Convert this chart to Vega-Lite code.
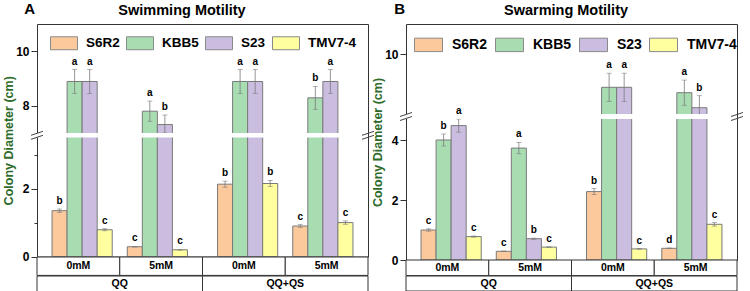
{
  "$schema": "https://vega.github.io/schema/vega-lite/v6.json",
  "padding": {"left": 2, "top": 1, "right": 0, "bottom": 0},
  "config": {"font": "Liberation Sans", "concat": {"spacing": 0}},
  "datasets": {
    "swim": [
      {"group": "QQ", "cond": "0mM", "strain": "S6R2", "key": "0mM S6R2", "mean": 1.35, "lo": 1.30, "hi": 1.40, "letter": "b"},
      {"group": "QQ", "cond": "0mM", "strain": "KBB5", "key": "0mM KBB5", "mean": 8.89, "lo": 8.45, "hi": 9.33, "letter": "a"},
      {"group": "QQ", "cond": "0mM", "strain": "S23", "key": "0mM S23", "mean": 8.89, "lo": 8.45, "hi": 9.33, "letter": "a"},
      {"group": "QQ", "cond": "0mM", "strain": "TMV7-4", "key": "0mM TMV7-4", "mean": 0.79, "lo": 0.76, "hi": 0.82, "letter": "c"},
      {"group": "QQ", "cond": "5mM", "strain": "S6R2", "key": "5mM S6R2", "mean": 0.29, "lo": 0.28, "hi": 0.30, "letter": "c"},
      {"group": "QQ", "cond": "5mM", "strain": "KBB5", "key": "5mM KBB5", "mean": 7.80, "lo": 7.43, "hi": 8.17, "letter": "a"},
      {"group": "QQ", "cond": "5mM", "strain": "S23", "key": "5mM S23", "mean": 7.31, "lo": 6.96, "hi": 7.66, "letter": "b"},
      {"group": "QQ", "cond": "5mM", "strain": "TMV7-4", "key": "5mM TMV7-4", "mean": 0.20, "lo": 0.19, "hi": 0.21, "letter": "c"},
      {"group": "QQ+QS", "cond": "0mM", "strain": "S6R2", "key": "0mM S6R2", "mean": 2.13, "lo": 2.04, "hi": 2.22, "letter": "b"},
      {"group": "QQ+QS", "cond": "0mM", "strain": "KBB5", "key": "0mM KBB5", "mean": 8.89, "lo": 8.45, "hi": 9.33, "letter": "a"},
      {"group": "QQ+QS", "cond": "0mM", "strain": "S23", "key": "0mM S23", "mean": 8.89, "lo": 8.45, "hi": 9.33, "letter": "a"},
      {"group": "QQ+QS", "cond": "0mM", "strain": "TMV7-4", "key": "0mM TMV7-4", "mean": 2.15, "lo": 2.06, "hi": 2.24, "letter": "b"},
      {"group": "QQ+QS", "cond": "5mM", "strain": "S6R2", "key": "5mM S6R2", "mean": 0.90, "lo": 0.86, "hi": 0.94, "letter": "c"},
      {"group": "QQ+QS", "cond": "5mM", "strain": "KBB5", "key": "5mM KBB5", "mean": 8.29, "lo": 7.87, "hi": 8.71, "letter": "b"},
      {"group": "QQ+QS", "cond": "5mM", "strain": "S23", "key": "5mM S23", "mean": 8.89, "lo": 8.45, "hi": 9.33, "letter": "a"},
      {"group": "QQ+QS", "cond": "5mM", "strain": "TMV7-4", "key": "5mM TMV7-4", "mean": 1.00, "lo": 0.95, "hi": 1.05, "letter": "c"}
    ],
    "swarm": [
      {"group": "QQ", "cond": "0mM", "strain": "S6R2", "key": "0mM S6R2", "mean": 1.00, "lo": 0.96, "hi": 1.04, "letter": "c"},
      {"group": "QQ", "cond": "0mM", "strain": "KBB5", "key": "0mM KBB5", "mean": 4.00, "lo": 3.80, "hi": 4.20, "letter": "b"},
      {"group": "QQ", "cond": "0mM", "strain": "S23", "key": "0mM S23", "mean": 4.48, "lo": 4.26, "hi": 4.70, "letter": "a"},
      {"group": "QQ", "cond": "0mM", "strain": "TMV7-4", "key": "0mM TMV7-4", "mean": 0.78, "lo": 0.76, "hi": 0.80, "letter": "c"},
      {"group": "QQ", "cond": "5mM", "strain": "S6R2", "key": "5mM S6R2", "mean": 0.29, "lo": 0.28, "hi": 0.30, "letter": "c"},
      {"group": "QQ", "cond": "5mM", "strain": "KBB5", "key": "5mM KBB5", "mean": 3.73, "lo": 3.54, "hi": 3.92, "letter": "a"},
      {"group": "QQ", "cond": "5mM", "strain": "S23", "key": "5mM S23", "mean": 0.71, "lo": 0.69, "hi": 0.73, "letter": "b"},
      {"group": "QQ", "cond": "5mM", "strain": "TMV7-4", "key": "5mM TMV7-4", "mean": 0.43, "lo": 0.42, "hi": 0.44, "letter": "c"},
      {"group": "QQ+QS", "cond": "0mM", "strain": "S6R2", "key": "0mM S6R2", "mean": 2.28, "lo": 2.18, "hi": 2.38, "letter": "b"},
      {"group": "QQ+QS", "cond": "0mM", "strain": "KBB5", "key": "0mM KBB5", "mean": 8.89, "lo": 8.42, "hi": 9.36, "letter": "a"},
      {"group": "QQ+QS", "cond": "0mM", "strain": "S23", "key": "0mM S23", "mean": 8.89, "lo": 8.42, "hi": 9.36, "letter": "a"},
      {"group": "QQ+QS", "cond": "0mM", "strain": "TMV7-4", "key": "0mM TMV7-4", "mean": 0.37, "lo": 0.36, "hi": 0.38, "letter": "c"},
      {"group": "QQ+QS", "cond": "5mM", "strain": "S6R2", "key": "5mM S6R2", "mean": 0.39, "lo": 0.38, "hi": 0.40, "letter": "d"},
      {"group": "QQ+QS", "cond": "5mM", "strain": "KBB5", "key": "5mM KBB5", "mean": 8.71, "lo": 8.29, "hi": 9.13, "letter": "a"},
      {"group": "QQ+QS", "cond": "5mM", "strain": "S23", "key": "5mM S23", "mean": 8.21, "lo": 7.81, "hi": 8.61, "letter": "b"},
      {"group": "QQ+QS", "cond": "5mM", "strain": "TMV7-4", "key": "5mM TMV7-4", "mean": 1.19, "lo": 1.13, "hi": 1.25, "letter": "c"}
    ]
  },
  "spacing": -6,
  "resolve": {"legend": {"color": "independent"}, "scale": {"xOffset": "independent"}},
  "hconcat": [
    {
      "title": {"text": "A", "anchor": "start", "frame": "bounds", "align": "left", "fontSize": 15, "fontWeight": "bold", "font": "Liberation Sans", "color": "#000000", "offset": -14.5, "dx": 22},
      "spacing": 0,
      "bounds": "flush",
      "resolve": {"legend": {"color": "independent"}, "scale": {"xOffset": "independent"}},
      "vconcat": [
        {
          "width": 331,
          "height": 232.6,
          "view": {"stroke": "#333333", "strokeWidth": 1},
          "title": {"text": "Swimming Motility", "fontSize": 14.5, "font": "Liberation Sans", "fontWeight": "bold", "color": "#000000", "anchor": "middle", "dx": -20.5, "offset": 6},
          "layer": [
            {
              "data": {"name": "swim"},
              "encoding": {
                "x": {"field": "group", "type": "nominal", "scale": {"domain": ["QQ", "QQ+QS"], "paddingInner": 0, "paddingOuter": 0}, "axis": null},
                "xOffset": {"field": "key", "type": "nominal", "scale": {"domain": ["0mM S6R2", "0mM KBB5", "0mM S23", "0mM TMV7-4", "gap", "5mM S6R2", "5mM KBB5", "5mM S23", "5mM TMV7-4"], "paddingInner": 0, "paddingOuter": 1.75}}
              },
              "layer": [
                {
                  "mark": {"type": "bar", "stroke": "#7a7a7a", "strokeWidth": 1},
                  "encoding": {
                    "y": {"field": "mean", "type": "quantitative", "title": "Colony Diameter (cm)",
                      "scale": {"domain": [0, 3.5, 7, 11], "range": [232.6, 113.6, 109, 0], "zero": false, "nice": false},
                      "axis": {"values": [0, 1, 2, 3, 8, 10], "labelExpr": "datum.value % 2 === 0 ? datum.label : ''", "domain": false, "grid": false, "tickColor": "#333333", "tickWidth": 1, "tickSize": {"condition": {"test": "datum.value % 2 === 1", "value": 3}, "value": 6}, "labelFont": "Liberation Sans", "labelFontWeight": "bold", "labelFontSize": 12, "labelColor": "#000000", "labelPadding": 2, "titleFont": "Liberation Sans", "titleFontWeight": "bold", "titleFontSize": 12.5, "titleColor": "#2f6b2a", "titlePadding": 0}},
                    "color": {"field": "strain", "type": "nominal", "scale": {"domain": ["S6R2", "KBB5", "S23", "TMV7-4"], "range": ["#fbc99c", "#a8ddb2", "#cbbde0", "#ffff9f"]},
                      "legend": {"orient": "none", "legendX": 13, "legendY": 5, "direction": "horizontal", "title": null, "symbolType": "M-1,-0.48H1V0.48H-1Z", "symbolSize": 729, "symbolStrokeColor": "#8a8a8a", "symbolStrokeWidth": 1, "symbolOpacity": 1, "labelFont": "Liberation Sans", "labelFontWeight": "bold", "labelFontSize": 13.5, "labelColor": "#000000", "labelOffset": 8, "columnPadding": 4, "padding": 0}}
                  }
                },
                {
                  "mark": {"type": "rule", "color": "#7a7a7a", "strokeWidth": 0.8},
                  "encoding": {"y": {"field": "lo", "type": "quantitative", "title": "Colony Diameter (cm)"}, "y2": {"field": "hi"}}
                },
                {
                  "mark": {"type": "tick", "color": "#7a7a7a", "thickness": 0.8, "size": 5, "orient": "horizontal"},
                  "encoding": {"y": {"field": "hi", "type": "quantitative", "title": "Colony Diameter (cm)"}}
                },
                {
                  "mark": {"type": "tick", "color": "#7a7a7a", "thickness": 0.8, "size": 5, "orient": "horizontal"},
                  "encoding": {"y": {"field": "lo", "type": "quantitative", "title": "Colony Diameter (cm)"}}
                },
                {
                  "mark": {"type": "text", "font": "Liberation Sans", "fontWeight": "bold", "fontSize": 10, "baseline": "alphabetic", "dy": -5, "color": "#000000"},
                  "encoding": {"y": {"field": "hi", "type": "quantitative", "title": "Colony Diameter (cm)"}, "text": {"field": "letter"}}
                }
              ]
            },
            {
              "data": {"name": "swim"},
              "transform": [{"aggregate": [{"op": "count", "as": "n"}]}],
              "layer": [
                {"mark": {"type": "rect", "fill": "#ffffff", "stroke": null}, "encoding": {"x": {"value": 0}, "x2": {"value": "width"}, "y": {"datum": 3.5, "type": "quantitative"}, "y2": {"datum": 7}}},
                {"mark": {"type": "point", "shape": "M-1,0L1,-0.667M-1,0.667L1,0", "size": 144, "filled": false, "stroke": "#444444", "strokeWidth": 1, "opacity": 1}, "encoding": {"x": {"value": 0}, "y": {"datum": 5.25, "type": "quantitative"}}},
                {"mark": {"type": "point", "shape": "M-1,0L1,-0.667M-1,0.667L1,0", "size": 144, "filled": false, "stroke": "#444444", "strokeWidth": 1, "opacity": 1}, "encoding": {"x": {"value": "width"}, "y": {"datum": 5.25, "type": "quantitative"}}}
              ]
            }
          ]
        },
        {
          "width": 331,
          "height": 18.4,
          "view": {"stroke": null},
          "data": {"name": "swim"},
          "transform": [{"aggregate": [{"op": "count", "as": "n"}], "groupby": ["group", "cond"]}],
          "encoding": {
            "x": {"field": "group", "type": "nominal", "scale": {"domain": ["QQ", "QQ+QS"], "paddingInner": 0, "paddingOuter": 0}, "axis": null},
            "xOffset": {"field": "cond", "type": "nominal", "scale": {"domain": ["0mM", "5mM"], "paddingInner": 0, "paddingOuter": 0}}
          },
          "layer": [
            {"mark": {"type": "rect", "fill": "#ffffff", "stroke": "#333333", "strokeWidth": 1}},
            {"mark": {"type": "text", "font": "Liberation Sans", "fontWeight": "bold", "fontSize": 10.5, "color": "#000000"}, "encoding": {"text": {"field": "cond"}}}
          ]
        },
        {
          "width": 331,
          "height": 15.6,
          "view": {"stroke": null},
          "data": {"name": "swim"},
          "transform": [{"aggregate": [{"op": "count", "as": "n"}], "groupby": ["group"]}],
          "encoding": {
            "x": {"field": "group", "type": "nominal", "scale": {"domain": ["QQ", "QQ+QS"], "paddingInner": 0, "paddingOuter": 0}, "axis": null}
          },
          "layer": [
            {"mark": {"type": "rect", "fill": "#ffffff", "stroke": "#333333", "strokeWidth": 1}},
            {"mark": {"type": "text", "font": "Liberation Sans", "fontWeight": "bold", "fontSize": 10.5, "color": "#000000"}, "encoding": {"text": {"field": "group"}}}
          ]
        }
      ]
    },
    {
      "title": {"text": "B", "anchor": "start", "frame": "bounds", "align": "left", "fontSize": 15, "fontWeight": "bold", "font": "Liberation Sans", "color": "#000000", "offset": -14.5, "dx": 23},
      "spacing": 0,
      "bounds": "flush",
      "resolve": {"legend": {"color": "independent"}, "scale": {"xOffset": "independent"}},
      "vconcat": [
        {
          "width": 331,
          "height": 236,
          "view": {"stroke": "#333333", "strokeWidth": 1},
          "title": {"text": "Swarming Motility", "fontSize": 14.5, "font": "Liberation Sans", "fontWeight": "bold", "color": "#000000", "anchor": "middle", "dx": -5.5, "offset": 6},
          "layer": [
            {
              "data": {"name": "swarm"},
              "encoding": {
                "x": {"field": "group", "type": "nominal", "scale": {"domain": ["QQ", "QQ+QS"], "paddingInner": 0, "paddingOuter": 0}, "axis": null},
                "xOffset": {"field": "key", "type": "nominal", "scale": {"domain": ["0mM S6R2", "0mM KBB5", "0mM S23", "0mM TMV7-4", "gap", "5mM S6R2", "5mM KBB5", "5mM S23", "5mM TMV7-4"], "paddingInner": 0, "paddingOuter": 1.75}}
              },
              "layer": [
                {
                  "mark": {"type": "bar", "stroke": "#7a7a7a", "strokeWidth": 1},
                  "encoding": {
                    "y": {"field": "mean", "type": "quantitative", "title": "Colony Diameter (cm)",
                      "scale": {"domain": [0, 4.7, 8, 11], "range": [236, 95, 90, 0], "zero": false, "nice": false},
                      "axis": {"values": [0, 1, 2, 3, 4, 9, 10], "labelExpr": "datum.value % 2 === 0 ? datum.label : ''", "domain": false, "grid": false, "tickColor": "#333333", "tickWidth": 1, "tickSize": {"condition": {"test": "datum.value % 2 === 1", "value": 3}, "value": 6}, "labelFont": "Liberation Sans", "labelFontWeight": "bold", "labelFontSize": 12, "labelColor": "#000000", "labelPadding": 2, "titleFont": "Liberation Sans", "titleFontWeight": "bold", "titleFontSize": 12.5, "titleColor": "#2f6b2a", "titlePadding": 0}},
                    "color": {"field": "strain", "type": "nominal", "scale": {"domain": ["S6R2", "KBB5", "S23", "TMV7-4"], "range": ["#fbc99c", "#a8ddb2", "#cbbde0", "#ffff9f"]},
                      "legend": {"orient": "none", "legendX": 8, "legendY": 6, "direction": "horizontal", "title": null, "symbolType": "M-1,-0.48H1V0.48H-1Z", "symbolSize": 784, "symbolStrokeColor": "#8a8a8a", "symbolStrokeWidth": 1, "symbolOpacity": 1, "labelFont": "Liberation Sans", "labelFontWeight": "bold", "labelFontSize": 14, "labelColor": "#000000", "labelOffset": 9, "columnPadding": 5, "padding": 0}}
                  }
                },
                {
                  "mark": {"type": "rule", "color": "#7a7a7a", "strokeWidth": 0.8},
                  "encoding": {"y": {"field": "lo", "type": "quantitative", "title": "Colony Diameter (cm)"}, "y2": {"field": "hi"}}
                },
                {
                  "mark": {"type": "tick", "color": "#7a7a7a", "thickness": 0.8, "size": 5, "orient": "horizontal"},
                  "encoding": {"y": {"field": "hi", "type": "quantitative", "title": "Colony Diameter (cm)"}}
                },
                {
                  "mark": {"type": "tick", "color": "#7a7a7a", "thickness": 0.8, "size": 5, "orient": "horizontal"},
                  "encoding": {"y": {"field": "lo", "type": "quantitative", "title": "Colony Diameter (cm)"}}
                },
                {
                  "mark": {"type": "text", "font": "Liberation Sans", "fontWeight": "bold", "fontSize": 10, "baseline": "alphabetic", "dy": -5, "color": "#000000"},
                  "encoding": {"y": {"field": "hi", "type": "quantitative", "title": "Colony Diameter (cm)"}, "text": {"field": "letter"}}
                }
              ]
            },
            {
              "data": {"name": "swarm"},
              "transform": [{"aggregate": [{"op": "count", "as": "n"}]}],
              "layer": [
                {"mark": {"type": "rect", "fill": "#ffffff", "stroke": null}, "encoding": {"x": {"value": 0}, "x2": {"value": "width"}, "y": {"datum": 4.7, "type": "quantitative"}, "y2": {"datum": 8}}},
                {"mark": {"type": "point", "shape": "M-1,0L1,-0.667M-1,0.667L1,0", "size": 144, "filled": false, "stroke": "#444444", "strokeWidth": 1, "opacity": 1}, "encoding": {"x": {"value": 0}, "y": {"datum": 6.35, "type": "quantitative"}}},
                {"mark": {"type": "point", "shape": "M-1,0L1,-0.667M-1,0.667L1,0", "size": 144, "filled": false, "stroke": "#444444", "strokeWidth": 1, "opacity": 1}, "encoding": {"x": {"value": "width"}, "y": {"datum": 6.35, "type": "quantitative"}}}
              ]
            }
          ]
        },
        {
          "width": 331,
          "height": 15.6,
          "view": {"stroke": null},
          "data": {"name": "swarm"},
          "transform": [{"aggregate": [{"op": "count", "as": "n"}], "groupby": ["group", "cond"]}],
          "encoding": {
            "x": {"field": "group", "type": "nominal", "scale": {"domain": ["QQ", "QQ+QS"], "paddingInner": 0, "paddingOuter": 0}, "axis": null},
            "xOffset": {"field": "cond", "type": "nominal", "scale": {"domain": ["0mM", "5mM"], "paddingInner": 0, "paddingOuter": 0}}
          },
          "layer": [
            {"mark": {"type": "rect", "fill": "#ffffff", "stroke": "#333333", "strokeWidth": 1}},
            {"mark": {"type": "text", "font": "Liberation Sans", "fontWeight": "bold", "fontSize": 10.5, "color": "#000000"}, "encoding": {"text": {"field": "cond"}}}
          ]
        },
        {
          "width": 331,
          "height": 15,
          "view": {"stroke": null},
          "data": {"name": "swarm"},
          "transform": [{"aggregate": [{"op": "count", "as": "n"}], "groupby": ["group"]}],
          "encoding": {
            "x": {"field": "group", "type": "nominal", "scale": {"domain": ["QQ", "QQ+QS"], "paddingInner": 0, "paddingOuter": 0}, "axis": null}
          },
          "layer": [
            {"mark": {"type": "rect", "fill": "#ffffff", "stroke": "#333333", "strokeWidth": 1}},
            {"mark": {"type": "text", "font": "Liberation Sans", "fontWeight": "bold", "fontSize": 10.5, "color": "#000000"}, "encoding": {"text": {"field": "group"}}}
          ]
        }
      ]
    }
  ]
}
